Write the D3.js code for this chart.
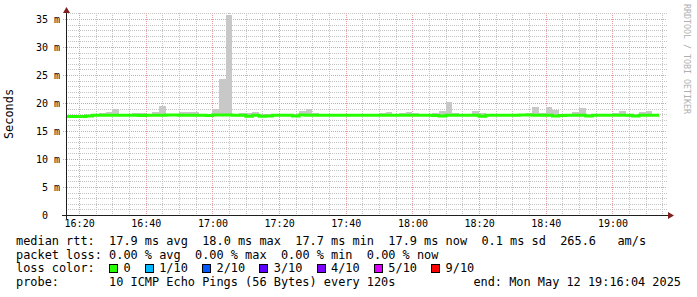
<!DOCTYPE html>
<html>
<head>
<meta charset="utf-8">
<script src="https://cdn.jsdelivr.net/npm/d3@7"></script>
<style>
    body { margin: 0; background: #fff; }
    svg { display: block; }
    text { font-family: "DejaVu Sans Mono", monospace; fill: #000; white-space: pre; }
</style>
</head>
<body>
<svg id="chart" width="697" height="297"></svg>
<script>
"use strict";

// smokeping style 3 hour graph, one value every 120s
const startTime = Date.UTC(2025, 4, 12, 16, 16, 0);
const stepSeconds = 120;

const medianMs = [
    17.6, 17.6, 17.6, 17.7, 17.8, 17.8, 17.8, 17.8, 17.8, 17.8,
    17.8, 17.75, 17.8, 17.8, 17.8, 17.85, 17.85, 17.8, 17.8, 17.8,
    17.8, 17.75, 17.85, 17.85, 17.85, 17.8, 17.8, 17.65, 17.8, 17.65,
    17.7, 17.8, 17.8, 17.8, 17.7, 17.85, 17.8, 17.8, 17.8, 17.8,
    17.8, 17.8, 17.8, 17.8, 17.8, 17.8, 17.8, 17.8, 17.8, 17.8,
    17.8, 17.8, 17.8, 17.8, 17.8, 17.75, 17.7, 17.8, 17.8, 17.8,
    17.8, 17.8, 17.65, 17.8, 17.8, 17.8, 17.8, 17.8, 17.85, 17.85,
    17.8, 17.8, 17.8, 17.7, 17.75, 17.8, 17.8, 17.8, 17.7, 17.8,
    17.8, 17.8, 17.8, 17.8, 17.8, 17.7, 17.8, 17.8, 17.8
];

const smokeMaxMs = [
    17.8, 17.8, 17.8, 17.9, 18.1, 18.3, 18.4, 19.0, 18.0, 18.0,
    18.2, 18.2, 18.0, 18.4, 19.5, 18.0, 18.0, 18.4, 18.4, 18.4,
    18.0, 18.1, 19.0, 24.2, 35.8, 18.0, 18.2, 18.3, 18.4, 18.0,
    18.0, 17.9, 17.9, 17.9, 18.0, 18.6, 18.85, 18.3, 17.95, 17.95,
    17.95, 17.95, 17.95, 17.95, 18.1, 17.95, 17.95, 18.3, 18.4, 18.0,
    18.2, 18.4, 18.2, 18.1, 18.1, 18.2, 18.6, 20.2, 18.3, 18.0,
    18.1, 18.6, 18.3, 18.0, 18.0, 18.0, 18.0, 18.0, 18.1, 18.3,
    19.3, 18.3, 19.3, 18.8, 17.9, 17.9, 18.4, 19.15, 18.0, 18.0,
    18.0, 18.1, 18.3, 18.6, 17.9, 18.1, 18.4, 18.6, 18.0
];

const smokeMinMs = [
    17.4, 17.4, 17.4, 17.5, 17.6, 17.6, 17.6, 17.6, 17.6, 17.6,
    17.6, 17.45, 17.6, 17.6, 17.6, 17.65, 17.65, 17.6, 17.6, 17.6,
    17.6, 17.55, 17.65, 17.65, 17.65, 17.6, 17.6, 17.45, 17.6, 17.45,
    17.45, 17.6, 17.6, 17.6, 17.5, 17.65, 17.6, 17.6, 17.6, 17.6,
    17.6, 17.6, 17.6, 17.6, 17.6, 17.6, 17.6, 17.6, 17.6, 17.6,
    17.6, 17.6, 17.6, 17.6, 17.6, 17.55, 17.5, 17.6, 17.6, 17.6,
    17.6, 17.6, 17.45, 17.6, 17.6, 17.6, 17.6, 17.6, 17.65, 17.65,
    17.6, 17.6, 17.6, 17.5, 17.5, 17.6, 17.6, 17.6, 17.5, 17.6,
    17.6, 17.6, 17.6, 17.6, 17.55, 17.5, 17.6, 17.6, 17.6
];

const yTicksMs = [0, 5, 10, 15, 20, 25, 30, 35];

const rttLegend = ["17.9 ms avg", "18.0 ms max", "17.7 ms min", "17.9 ms now", "0.1 ms sd", "265.6", "am/s"];
const lossLegend = ["0.00 % avg", "0.00 % max", "0.00 % min", "0.00 % now"];
const lossSteps = ["0", "1/10", "2/10", "3/10", "4/10", "5/10", "9/10"];
const lossColors = ["#26ff00", "#00b8ff", "#0059ff", "#5e00ff", "#7e00ff", "#dd00ff", "#ff0000"];
const probeText = "10 ICMP Echo Pings (56 Bytes) every 120s";
const endText = "end: Mon May 12 19:16:04 2025";

const svg = d3.select("#chart");
const plotLeft = 66, plotRight = 666, plotTop = 13, plotBottom = 215;

const x = d3.scaleUtc()
    .domain([Date.UTC(2025, 4, 12, 16, 16, 4), Date.UTC(2025, 4, 12, 19, 16, 4)])
    .range([plotLeft, plotRight]);
const y = d3.scaleLinear()
    .domain([0, 36])
    .range([plotBottom, plotBottom - 36 * 5.6]);

const data = medianMs.map((m, i) => ({
    t0: new Date(startTime + i * stepSeconds * 1000),
    t1: new Date(startTime + (i + 1) * stepSeconds * 1000),
    median: m,
    min: smokeMinMs[i],
    max: smokeMaxMs[i]
}));

svg.append("clipPath").attr("id", "plot")
    .append("rect").attr("x", plotLeft).attr("y", 0).attr("width", plotRight - plotLeft).attr("height", plotBottom);

// grid
const grid = svg.append("g").attr("shape-rendering", "crispEdges").attr("stroke-dasharray", "1,1");
const minorY = d3.range(1, 37).filter(v => v % 5 !== 0);
grid.selectAll("line.minory").data(minorY).enter().append("line")
    .attr("x1", plotLeft).attr("x2", plotRight + 1)
    .attr("y1", d => Math.round(y(d)) + 0.5).attr("y2", d => Math.round(y(d)) + 0.5)
    .attr("stroke", "#c4c4c4");
const minutes5 = x.ticks(d3.utcMinute.every(5));
grid.selectAll("line.minorx").data(minutes5.filter(d => d.getUTCMinutes() % 20 !== 0)).enter().append("line")
    .attr("x1", d => Math.round(x(d)) + 0.5).attr("x2", d => Math.round(x(d)) + 0.5)
    .attr("y1", plotTop).attr("y2", plotBottom)
    .attr("stroke", "#c4c4c4");
grid.selectAll("line.majory").data(yTicksMs.filter(v => v > 0)).enter().append("line")
    .attr("x1", plotLeft - 3).attr("x2", plotRight + 1)
    .attr("y1", d => Math.round(y(d)) + 0.5).attr("y2", d => Math.round(y(d)) + 0.5)
    .attr("stroke", "#e3a0a0");
const majorX = minutes5.filter(d => d.getUTCMinutes() % 20 === 0);
grid.selectAll("line.majorx").data(majorX).enter().append("line")
    .attr("x1", d => Math.round(x(d)) + 0.5).attr("x2", d => Math.round(x(d)) + 0.5)
    .attr("y1", plotTop).attr("y2", plotBottom)
    .attr("stroke", "#e3a0a0");

// smoke (min .. max of the pings)
const plot = svg.append("g").attr("clip-path", "url(#plot)");
plot.selectAll("rect.smoke").data(data).enter().append("rect")
    .attr("shape-rendering", "crispEdges")
    .attr("x", d => x(d.t0)).attr("width", d => x(d.t1) - x(d.t0))
    .attr("y", d => y(d.max)).attr("height", d => y(d.min) - y(d.max))
    .attr("fill", "#c8c8c8");

// median, colour by loss (all 0 here)
const medianLine = d3.line()
    .curve(d3.curveStepAfter)
    .x(d => x(d.t))
    .y(d => y(d.v));
const pts = data.map(d => ({ t: d.t0, v: d.median }));
pts.push({ t: data[data.length - 1].t1, v: data[data.length - 1].median });
plot.append("path")
    .attr("d", medianLine(pts))
    .attr("fill", "none")
    .attr("stroke", lossColors[0])
    .attr("stroke-width", 3);

// axes
svg.append("line").attr("x1", plotLeft - 4).attr("x2", plotRight + 3).attr("y1", plotBottom + 0.5).attr("y2", plotBottom + 0.5)
    .attr("stroke", "#1f1f1f").attr("shape-rendering", "crispEdges");
svg.append("line").attr("x1", plotLeft + 0.5).attr("x2", plotLeft + 0.5).attr("y1", plotBottom + 4).attr("y2", 10)
    .attr("stroke", "#1f1f1f").attr("shape-rendering", "crispEdges");
svg.append("path").attr("d", `M${plotRight + 2},${plotBottom - 3}L${plotRight + 8},${plotBottom + 0.5}L${plotRight + 2},${plotBottom + 4}Z`)
    .attr("fill", "#801f1f");
svg.append("path").attr("d", `M${plotLeft - 3},${plotTop}L${plotLeft + 0.5},${plotTop - 6}L${plotLeft + 4},${plotTop}Z`)
    .attr("fill", "#801f1f");

const xAxis = svg.append("g")
    .attr("transform", `translate(0,${plotBottom})`)
    .call(d3.axisBottom(x).tickValues(majorX).tickSize(0).tickPadding(4.5).tickFormat(d3.utcFormat("%H:%M")));
xAxis.select(".domain").remove();
xAxis.selectAll("text").attr("font-family", "DejaVu Sans Mono").attr("font-size", "10px").attr("fill", "#000");

const yAxis = svg.append("g")
    .attr("transform", `translate(${plotLeft},0)`)
    .call(d3.axisLeft(y).tickValues(yTicksMs).tickSize(0).tickPadding(6).tickFormat(v => v === 0 ? "0" : v + " m"));
yAxis.select(".domain").remove();
yAxis.selectAll("text").attr("font-family", "DejaVu Sans Mono").attr("font-size", "10px").attr("fill", "#000")
    .attr("x", d => d === 0 ? -18 : -6);

// unit label and watermark
svg.append("text")
    .attr("transform", "translate(13,114) rotate(-90)")
    .attr("text-anchor", "middle")
    .attr("font-size", "11.9px")
    .text("Seconds");
svg.append("text")
    .attr("transform", "translate(684,4) rotate(90)")
    .attr("font-size", "8.3px")
    .style("fill", "#b0b0b0")
    .text("RRDTOOL / TOBI OETIKER");

// legend, laid out on a monospace column grid like rrdtool does
const lx = 16, cw = 7.16;
const legend = svg.append("g").attr("font-size", "11.9px");
function put(colNo, rowY, str) {
    legend.append("text").attr("x", lx + colNo * cw).attr("y", rowY).text(str);
}

put(0, 245, "median rtt:");
[13, 26, 39, 52, 65, 76, 84].forEach((c, i) => put(c, 245, rttLegend[i]));

put(0, 258.5, "packet loss:");
lossLegend.forEach((s, i) => put(13 + i * 12, 258.5, s));

put(0, 272, "loss color:");
let col = 13;
lossSteps.forEach((s, i) => {
    legend.append("rect")
        .attr("x", Math.round(lx + col * cw) + 0.5).attr("y", 264.5)
        .attr("width", 8).attr("height", 8)
        .attr("fill", lossColors[i]).attr("stroke", "#000").attr("shape-rendering", "crispEdges");
    put(col + 2, 272, s);
    col += s.length + 4;
});

put(0, 285.5, "probe:");
put(13, 285.5, probeText);
legend.append("text").attr("x", 681).attr("y", 285.5).attr("text-anchor", "end").text(endText);
</script>
</body>
</html>
